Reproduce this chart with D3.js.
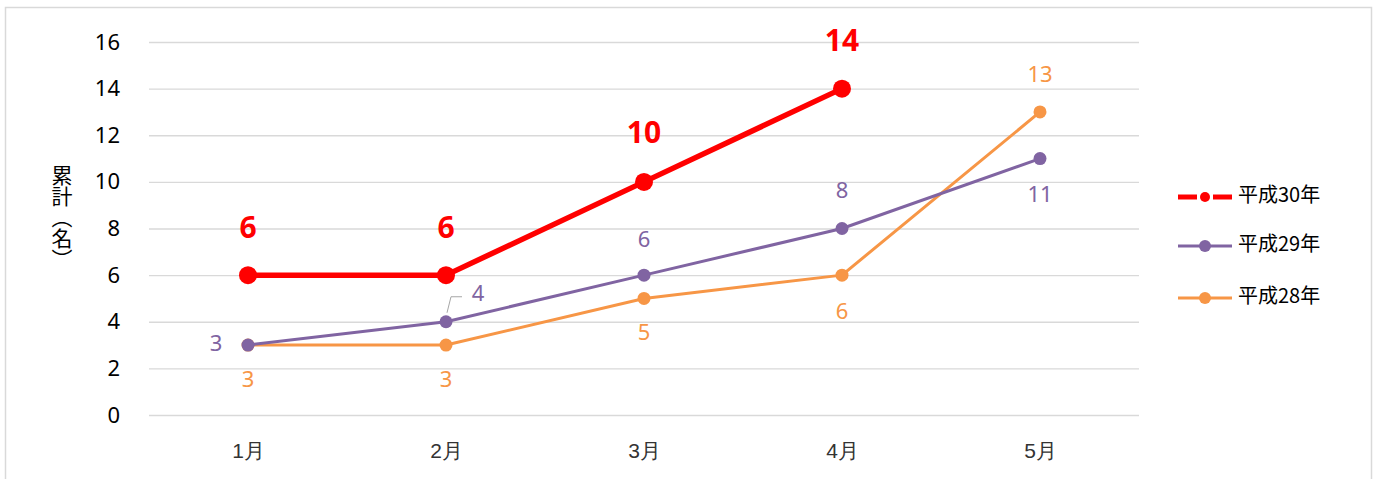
<!DOCTYPE html>
<html>
<head>
<meta charset="utf-8">
<script src="https://cdn.jsdelivr.net/npm/d3@7"></script>
<style>
  body { margin: 0; background: #fff; }
  svg { display: block; font-family: "Noto Sans CJK JP", "Noto Sans", sans-serif; }
</style>
</head>
<body>
<div id="chart"></div>
<script>
var width = 1381, height = 479;

// データ
var months = ['1月', '2月', '3月', '4月', '5月'];
var h30 = [6, 6, 10, 14, null];
var h29 = [3, 4, 6, 8, 11];
var h28 = [3, 3, 5, 6, 13];
var yTicks = [0, 2, 4, 6, 8, 10, 12, 14, 16];
var seriesNames = ['平成30年', '平成29年', '平成28年'];

var svg = d3.select('#chart').append('svg').attr('width', width).attr('height', height);

// 枠線
svg.append('rect').attr('x', 5.5).attr('y', 7.5).attr('width', 1366).attr('height', 480)
    .attr('fill', 'none').attr('stroke', '#d9d9d9').attr('stroke-width', 1.5);

var x = d3.scalePoint().domain(months).range([149, 1139]).padding(0.5);
var y = d3.scaleLinear().domain([0, 16]).range([415, 42]);

// グリッド
svg.append('g').selectAll('line').data(yTicks).enter().append('line')
    .attr('x1', 149).attr('x2', 1139)
    .attr('y1', d => y(d) + 0.5).attr('y2', d => y(d) + 0.5)
    .attr('stroke', '#d9d9d9').attr('stroke-width', 1.3);

// Y軸
var yAxis = svg.append('g').attr('transform', 'translate(120,0)')
    .call(d3.axisLeft(y).tickValues(yTicks).tickSize(0).tickPadding(0));
yAxis.select('.domain').remove();
yAxis.selectAll('text').attr('font-size', 22).attr('fill', '#000').attr('font-family', '"Noto Sans", sans-serif');

// X軸
var xAxis = svg.append('g').attr('transform', 'translate(0,451)')
    .call(d3.axisBottom(x).tickSize(0).tickPadding(0));
xAxis.select('.domain').remove();
xAxis.selectAll('text').attr('font-size', 21).attr('fill', '#333').attr('dy', '0.35em');

// Y軸タイトル（縦書き）
svg.append('text')
    .attr('x', 62).attr('y', 165)
    .attr('font-size', 21).attr('fill', '#000')
    .style('writing-mode', 'vertical-rl')
    .text('累計（名）');

var series = [
    { name: seriesNames[2], values: h28, color: '#F79646', sw: 3, r: 6.5 },
    { name: seriesNames[1], values: h29, color: '#8064A2', sw: 3, r: 6.5 },
    { name: seriesNames[0], values: h30, color: '#FF0000', sw: 5.5, r: 9 }
];

var line = d3.line().defined(d => d.v != null).x(d => x(d.m)).y(d => y(d.v));

series.forEach(s => {
    var pts = months.map((m, i) => ({ m: m, v: s.values[i] }));
    svg.append('path').datum(pts).attr('d', line)
        .attr('fill', 'none').attr('stroke', s.color).attr('stroke-width', s.sw)
        .attr('stroke-linejoin', 'round');
    svg.append('g').selectAll('circle').data(pts.filter(d => d.v != null)).enter().append('circle')
        .attr('cx', d => x(d.m)).attr('cy', d => y(d.v)).attr('r', s.r).attr('fill', s.color);
});

// データラベル
function labels(values, color, size, weight, offsets) {
    svg.append('g').selectAll('text').data(months.map((m, i) => ({ m: m, v: values[i], o: offsets[i] })).filter(d => d.v != null))
        .enter().append('text')
        .attr('x', d => x(d.m) + d.o[0]).attr('y', d => y(d.v) + d.o[1])
        .attr('text-anchor', 'middle').attr('dominant-baseline', 'middle')
        .attr('font-size', size).attr('font-weight', weight).attr('fill', color)
        .attr('font-family', '"Noto Sans", sans-serif')
        .text(d => d.v);
}
labels(h30, '#FF0000', 30, 'bold', [[0, -45], [0, -45], [0, -47], [0, -46]]);
labels(h29, '#8064A2', 22, 'normal', [[-32, 0], [32, -27], [0, -34], [0, -36], [0, 38]]);
labels(h28, '#F79646', 22, 'normal', [[0, 36], [0, 36], [0, 36], [0, 38], [0, -36]]);

// 「4」の引き出し線
var lx = x('2月'), ly = y(4);
svg.append('path')
    .attr('d', `M${lx + 1},${ly - 9} L${lx + 5},${ly - 25} L${lx + 16},${ly - 25}`)
    .attr('fill', 'none').attr('stroke', '#a6a6a6').attr('stroke-width', 1);

// 凡例
var legend = svg.append('g').attr('transform', 'translate(1178,0)');
var legendItems = [
    { name: seriesNames[0], color: '#FF0000', y: 197, dash: true },
    { name: seriesNames[1], color: '#8064A2', y: 246, dash: false },
    { name: seriesNames[2], color: '#F79646', y: 298, dash: false }
];
legendItems.forEach(d => {
    if (d.dash) {
        legend.append('line').attr('x1', 0).attr('x2', 19).attr('y1', d.y).attr('y2', d.y)
            .attr('stroke', d.color).attr('stroke-width', 5);
        legend.append('line').attr('x1', 35).attr('x2', 54).attr('y1', d.y).attr('y2', d.y)
            .attr('stroke', d.color).attr('stroke-width', 5);
        legend.append('circle').attr('cx', 27).attr('cy', d.y).attr('r', 5).attr('fill', d.color);
    } else {
        legend.append('line').attr('x1', 0).attr('x2', 54).attr('y1', d.y).attr('y2', d.y)
            .attr('stroke', d.color).attr('stroke-width', 3);
        legend.append('circle').attr('cx', 27).attr('cy', d.y).attr('r', 6).attr('fill', d.color);
    }
    legend.append('text').attr('x', 60).attr('y', d.y).attr('dominant-baseline', 'middle')
        .attr('font-size', 20).attr('fill', '#000').text(d.name);
});
</script>
</body>
</html>
